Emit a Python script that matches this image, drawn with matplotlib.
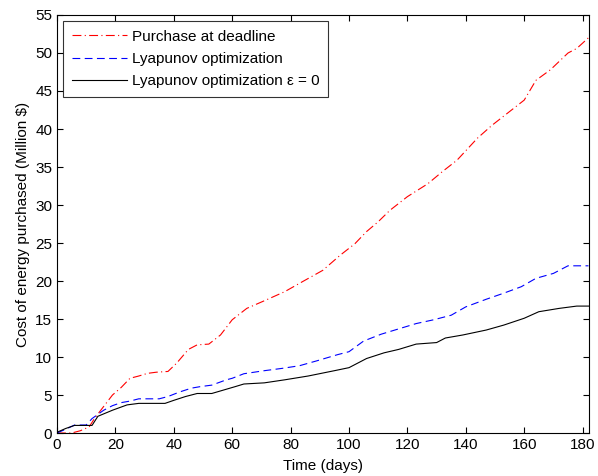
import matplotlib
matplotlib.use("Agg")
import matplotlib.pyplot as plt

plt.rcParams['font.family'] = ['Liberation Sans', 'DejaVu Sans']

# values
days_deadline = [0, 5, 8, 11, 13, 15, 19, 22, 25, 28, 31, 34, 38, 41, 45, 48, 52, 56, 60, 65,
                 71, 78, 84, 91, 97, 102, 106, 110, 114, 120, 127, 132, 137, 144, 149, 155,
                 160, 164, 169, 175, 178, 182]
cost_deadline = [0, 0, 0.3, 0.8, 2.0, 3.0, 5.0, 6.0, 7.2, 7.5, 7.85, 8.0, 8.1, 9.2, 11.0, 11.6,
                 11.7, 12.9, 14.9, 16.4, 17.4, 18.6, 19.9, 21.4, 23.4, 24.9, 26.5, 27.8, 29.3,
                 31.1, 32.8, 34.4, 35.9, 38.8, 40.5, 42.3, 43.8, 46.4, 47.8, 50.0, 50.6, 52.0]

days_lyap = [0, 3, 6, 10, 12, 16, 19, 22, 25, 28, 35, 38, 42, 46, 49, 53, 58, 60, 64, 71, 77,
             83, 89, 96, 100, 105, 111, 117, 123, 129, 135, 140, 147, 153, 159, 164, 170, 175, 182]
cost_lyap = [0, 0.5, 1.05, 1.05, 1.9, 3.0, 3.6, 4.0, 4.2, 4.5, 4.5, 4.8, 5.4, 5.9, 6.1, 6.3,
             7.0, 7.2, 7.8, 8.2, 8.5, 8.85, 9.5, 10.3, 10.7, 12.1, 13.0, 13.7, 14.4, 14.9,
             15.5, 16.6, 17.6, 18.4, 19.25, 20.35, 21.0, 22.0, 22.0]

days_eps0 = [0, 3, 6, 12, 14, 19, 24, 28, 37, 40, 44, 48, 53, 57, 61, 64, 71, 78, 86, 95, 100,
             106, 112, 117, 123, 130, 133, 139, 147, 153, 160, 165, 172, 178, 182]
cost_eps0 = [0.1, 0.6, 1.0, 1.0, 2.2, 3.0, 3.7, 3.9, 3.9, 4.3, 4.8, 5.2, 5.2, 5.65, 6.1, 6.45,
             6.6, 7.0, 7.5, 8.2, 8.6, 9.8, 10.55, 11.0, 11.7, 11.9, 12.5, 12.9, 13.55, 14.2,
             15.1, 15.96, 16.4, 16.7, 16.7]

labels = ["Purchase at deadline", "Lyapunov optimization", "Lyapunov optimization \u03b5 = 0"]

fig = plt.figure(figsize=(5.98, 4.76), dpi=100)
ax = fig.add_axes([0.0953, 0.0903, 0.8902, 0.8782])

ax.plot(days_deadline, cost_deadline, color='red', lw=0.8, linestyle=(0, (8, 3, 1, 3)), label=labels[0])
ax.plot(days_lyap, cost_lyap, color='blue', lw=0.8, linestyle=(0, (7, 4)), label=labels[1])
ax.plot(days_eps0, cost_eps0, color='black', lw=0.8, label=labels[2])

ax.set_xlim(0, 182.3)
ax.set_ylim(0, 55)
ax.set_xticks(range(0, 181, 20))
ax.set_yticks(range(0, 56, 5))
ax.tick_params(direction='in', top=True, right=True, labelsize=11, length=4)
for s in ax.spines.values():
    s.set_linewidth(0.8)

ax.set_xlabel("Time (days)", fontsize=11, labelpad=5)
ax.set_ylabel("Cost of energy purchased (Million $)", fontsize=11, labelpad=4)

leg = ax.legend(loc='upper left', fontsize=11, handlelength=3.6, frameon=True, fancybox=False,
                edgecolor='black', borderaxespad=0.4, handletextpad=0.35, labelspacing=0.55,
                borderpad=0.55)
leg.get_frame().set_linewidth(0.8)

fig.savefig("out.png", dpi=100)
